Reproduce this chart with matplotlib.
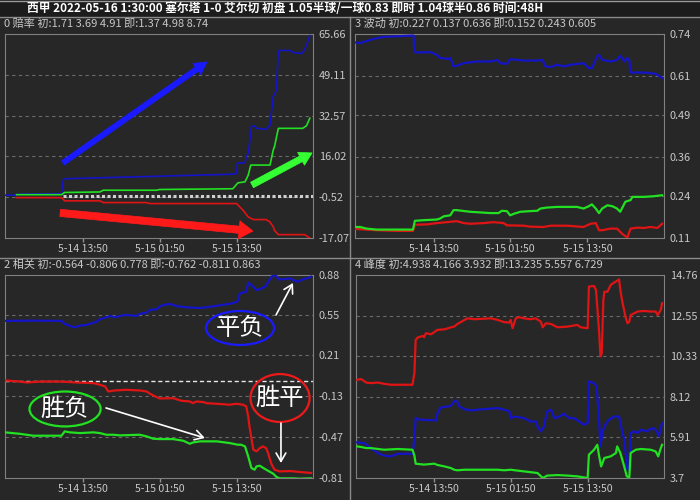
import matplotlib
matplotlib.use('Agg')
import matplotlib.pyplot as plt
from matplotlib.patches import Ellipse, Rectangle
from matplotlib.lines import Line2D

plt.rcParams['font.family'] = ['Noto Sans CJK SC', 'DejaVu Sans']

BG = '#272727'
TXT = '#c8c8c8'
BLUE = '#1414c8'
GREEN = '#22e022'
RED = '#e01414'

title_text = "西甲 2022-05-16 1:30:00 塞尔塔 1-0 艾尔切 初盘 1.05半球/一球0.83 即时 1.04球半0.86 时间:48H"
x_tick_pos = [12.2, 24.1, 36.1]
x_tick_labels = ['5-14 13:50', '5-15 01:50', '5-15 13:50']

# ---------------- panel 0 : 赔率 ----------------
p0_header = "0 赔率 初:1.71 3.69 4.91 即:1.37 4.98 8.74"
p0_yticks = [-17.07, -0.52, 16.02, 32.57, 49.11, 65.66]
p0_ylabels = ['-17.07', '-0.52', '16.02', '32.57', '49.11', '65.66']
p0_blue_t = [0, 1.8, 2.1, 8.8, 9.1, 9.6, 20, 35.5, 36.1, 36.2, 37.4, 37.6, 37.9, 38.1, 38.4, 38.9, 39.2, 40.7,
             41.3, 41.8, 42.2, 42.3, 42.6, 42.8, 44.4, 44.9, 46.2, 46.7, 47.1, 47.5]
p0_blue_v = [0.3, 0.3, 0.7, 0.9, 6.8, 7.0, 7.7, 8.8, 9.1, 13.2, 13.5, 15.9, 17.3, 21.3, 28.1, 28.4, 27.4, 27.0,
             28.8, 40.3, 42.3, 43.7, 58.6, 59.0, 59.0, 58.2, 57.7, 59.3, 62.0, 65.0]
p0_green_t = [1.8, 8.8, 9.3, 14.8, 15.3, 23.6, 24.1, 35.5, 36.3, 37.4, 37.9, 38.3, 41.3, 41.8, 42.0, 42.6,
              46.4, 47.0, 47.5]
p0_green_v = [0.5, 0.5, 1.4, 1.6, 2.3, 2.3, 2.6, 2.9, 5.3, 5.7, 8.4, 12.5, 12.5, 18.6, 20.0, 27.4,
              27.4, 28.5, 31.5]
p0_red_t = [1.8, 8.8, 9.3, 14.8, 15.3, 22.0, 22.6, 36.1, 36.6, 37.1, 37.9, 38.7, 40.7, 41.3, 41.8, 42.0,
            42.6, 46.7, 47.5]
p0_red_v = [-0.7, -0.7, -2.0, -2.0, -2.7, -2.7, -3.1, -3.1, -4.5, -5.8, -8.5, -9.6, -9.6, -10.6, -12.5, -14.0,
            -15.7, -15.7, -17.1]

# ---------------- panel 3 : 波动 ----------------
p3_header = "3 波动 初:0.227 0.137 0.636 即:0.152 0.243 0.605"
p3_yticks = [0.11, 0.24, 0.36, 0.49, 0.61, 0.74]
p3_ylabels = ['0.11', '0.24', '0.36', '0.49', '0.61', '0.74']
p3_blue_t = [0, 0.8, 1.6, 2.9, 4.4, 6.5, 8.8, 9.1, 9.2, 9.6, 11.7, 12.7, 13.2, 14.5, 14.8, 15.3, 15.8, 16.9,
             18.9, 21.0, 22.1, 22.6, 23.6, 24.1, 25.2, 26.2, 28.3, 29.1, 29.6, 30.4, 31.4, 32.4, 33.5, 35.5,
             36.3, 36.8, 37.6, 37.9, 38.4, 39.7, 40.7, 41.2, 41.5, 41.8, 42.3, 42.6, 42.8, 44.9, 45.9, 46.7,
             47.2, 47.7]
p3_blue_v = [0.714, 0.712, 0.717, 0.725, 0.731, 0.733, 0.735, 0.735, 0.686, 0.683, 0.684, 0.676, 0.666, 0.663,
             0.666, 0.640, 0.642, 0.650, 0.655, 0.655, 0.660, 0.650, 0.648, 0.662, 0.660, 0.658, 0.658, 0.660,
             0.640, 0.638, 0.645, 0.640, 0.645, 0.650, 0.635, 0.635, 0.671, 0.676, 0.660, 0.655, 0.660, 0.673,
             0.666, 0.655, 0.666, 0.660, 0.621, 0.621, 0.619, 0.617, 0.611, 0.604]
p3_green_t = [0, 0.8, 1.8, 3.4, 6.5, 9.0, 9.3, 10.6, 12.7, 13.2, 13.8, 14.8, 15.3, 15.8, 17.9, 21.0, 22.3,
              22.8, 23.6, 24.1, 24.7, 25.7, 27.2, 28.3, 28.8, 29.8, 31.4, 34.5, 35.5, 36.3, 36.8, 37.4, 37.9,
              38.4, 39.2, 40.0, 40.7, 41.2, 42.0, 42.8, 43.1, 44.9, 46.4, 47.7]
p3_green_v = [0.144, 0.144, 0.139, 0.136, 0.136, 0.136, 0.163, 0.165, 0.167, 0.170, 0.177, 0.180, 0.196, 0.196,
              0.191, 0.187, 0.187, 0.194, 0.193, 0.180, 0.185, 0.191, 0.193, 0.194, 0.201, 0.204, 0.206, 0.206,
              0.201, 0.208, 0.214, 0.201, 0.187, 0.201, 0.211, 0.208, 0.201, 0.191, 0.222, 0.227, 0.237, 0.237,
              0.239, 0.242]
p3_red_t = [0, 1.8, 3.4, 6.5, 9.0, 9.3, 11.2, 12.7, 14.8, 15.8, 16.9, 17.9, 20.0, 21.5, 23.1, 23.6, 26.2,
            27.2, 29.3, 30.4, 33.0, 35.5, 36.6, 37.4, 37.9, 38.4, 39.7, 40.7, 41.5, 42.3, 42.8, 43.9, 44.9,
            45.9, 47.0, 47.7]
p3_red_v = [0.138, 0.136, 0.134, 0.132, 0.132, 0.151, 0.152, 0.156, 0.160, 0.162, 0.156, 0.154, 0.156, 0.159,
            0.156, 0.149, 0.148, 0.145, 0.144, 0.148, 0.148, 0.144, 0.154, 0.156, 0.134, 0.134, 0.139, 0.139,
            0.123, 0.111, 0.139, 0.142, 0.141, 0.144, 0.141, 0.154]

# ---------------- panel 2 : 相关 ----------------
p2_header = "2 相关 初:-0.564 -0.806 0.778 即:-0.762 -0.811 0.863"
p2_yticks = [-0.81, -0.47, -0.13, 0.21, 0.55, 0.88]
p2_ylabels = ['-0.81', '-0.47', '-0.13', '0.21', '0.55', '0.88']
p2_blue_t = [0, 4.4, 8.8, 9.3, 10.4, 10.9, 11.7, 12.7, 13.5, 14.3, 14.8, 15.8, 16.4, 17.1, 17.9, 18.9, 20.5,
             21.0, 22.1, 22.6, 23.6, 24.1, 24.7, 25.7, 26.5, 27.2, 28.3, 29.3, 30.4, 31.4, 33.5, 35.5, 36.2,
             36.6, 37.6, 37.9, 38.4, 39.2, 39.7, 40.7, 41.0, 41.5, 41.8, 42.3, 42.6, 43.3, 44.4, 44.9, 45.7,
             46.4, 47.0, 47.7]
p2_blue_v = [0.498, 0.500, 0.498, 0.473, 0.451, 0.445, 0.459, 0.464, 0.478, 0.492, 0.512, 0.528, 0.539, 0.528,
             0.539, 0.548, 0.539, 0.556, 0.567, 0.589, 0.595, 0.617, 0.631, 0.639, 0.625, 0.617, 0.611, 0.608,
             0.606, 0.611, 0.628, 0.645, 0.658, 0.728, 0.741, 0.816, 0.797, 0.755, 0.761, 0.789, 0.825, 0.861,
             0.880, 0.872, 0.844, 0.844, 0.852, 0.838, 0.825, 0.844, 0.852, 0.866]
p2_red_t = [0, 2.3, 3.4, 5.5, 8.6, 11.2, 13.8, 14.8, 15.6, 16.1, 17.1, 18.9, 21.0, 22.1, 22.6, 24.1, 26.2,
            27.5, 28.8, 29.3, 29.8, 30.9, 31.4, 33.0, 35.0, 36.1, 37.1, 37.6, 37.9, 38.1, 38.7, 39.2, 39.7,
            40.2, 40.7, 41.0, 41.5, 42.0, 42.8, 44.4, 45.9, 47.7]
p2_red_v = [0.002, -0.007, -0.015, -0.007, -0.007, -0.015, -0.020, -0.034, -0.048, -0.090, -0.081, -0.076,
            -0.081, -0.090, -0.109, -0.148, -0.145, -0.167, -0.173, -0.187, -0.173, -0.178, -0.187, -0.192,
            -0.200, -0.192, -0.200, -0.214, -0.297, -0.381, -0.574, -0.588, -0.561, -0.547, -0.561, -0.602,
            -0.691, -0.741, -0.755, -0.752, -0.760, -0.768]
p2_green_t = [0, 2.3, 4.4, 8.8, 9.3, 10.1, 11.7, 13.8, 14.8, 15.8, 16.9, 17.9, 21.0, 22.1, 23.1, 24.1, 26.2,
              27.8, 28.8, 29.3, 30.4, 33.0, 35.0, 36.3, 36.8, 37.4, 37.9, 38.4, 38.9, 39.2, 39.7, 40.7, 41.8,
              42.3, 42.8, 44.9, 45.9, 47.7]
p2_green_v = [-0.430, -0.442, -0.458, -0.458, -0.422, -0.430, -0.436, -0.430, -0.436, -0.450, -0.450, -0.455,
              -0.450, -0.464, -0.483, -0.486, -0.486, -0.500, -0.525, -0.514, -0.505, -0.505, -0.519, -0.533,
              -0.533, -0.547, -0.630, -0.727, -0.741, -0.713, -0.708, -0.741, -0.774, -0.801, -0.813, -0.813,
              -0.816, -0.813]

# ---------------- panel 4 : 峰度 ----------------
p4_header = "4 峰度 初:4.938 4.166 3.932 即:13.235 5.557 6.729"
p4_yticks = [3.7, 5.91, 8.12, 10.33, 12.55, 14.76]
p4_ylabels = ['3.7', '5.91', '8.12', '10.33', '12.55', '14.76']
p4_red_t = [0.2, 0.8, 1.6, 2.3, 3.4, 4.4, 5.5, 8.8, 9.1, 9.3, 9.6, 10.4, 10.6, 10.9, 11.7, 12.7, 13.8, 14.8,
            15.3, 15.8, 16.9, 17.4, 18.4, 20.0, 21.0, 22.1, 23.1, 23.9, 24.1, 24.4, 24.9, 25.4, 26.2, 27.2,
            28.0, 28.8, 29.1, 29.6, 30.4, 31.4, 33.0, 34.5, 35.0, 36.1, 36.3, 37.1, 37.4, 37.6, 37.9, 38.1,
            38.3, 38.55, 38.7, 39.2, 39.7, 40.2, 40.7, 41.0, 41.2, 41.5, 42.0, 42.3, 42.6, 42.8, 43.9, 44.9,
            45.9, 46.7, 47.0, 47.5, 47.7]
p4_red_v = [9.05, 9.09, 8.90, 8.87, 8.90, 8.83, 8.78, 8.78, 9.41, 11.22, 11.35, 11.44, 11.37, 11.59, 11.53,
            11.77, 11.80, 11.91, 11.95, 12.09, 12.31, 12.40, 12.35, 12.38, 12.40, 12.31, 12.19, 12.17, 12.31,
            11.86, 12.40, 12.46, 12.40, 12.35, 12.40, 12.22, 11.91, 12.13, 12.09, 11.91, 11.95, 12.04, 11.91,
            11.86, 14.13, 14.16, 13.94, 13.04, 11.59, 10.32, 10.50, 13.40, 13.85, 13.85, 14.22, 14.34, 14.45,
            14.52, 13.94, 13.31, 12.49, 12.13, 12.22, 12.58, 12.77, 12.80, 12.77, 12.77, 12.58, 12.86, 13.22]
p4_blue_t = [0.2, 1.3, 2.3, 3.4, 4.4, 5.5, 6.5, 8.8, 9.1, 9.3, 10.1, 12.5, 12.7, 13.2, 14.8, 15.3, 15.7, 16.1,
             16.9, 17.9, 18.9, 22.1, 23.1, 23.9, 24.1, 24.7, 26.2, 27.2, 28.0, 28.3, 28.8, 29.3, 29.8, 30.4,
             30.9, 31.7, 32.4, 33.2, 34.0, 34.8, 35.5, 36.1, 36.3, 37.1, 37.5, 37.9, 38.1, 38.4, 38.7, 39.4,
             40.2, 41.0, 41.3, 41.8, 42.3, 42.6, 42.8, 43.3, 43.9, 44.4, 45.4, 45.9, 46.4, 46.9, 47.2, 47.7]
p4_blue_v = [5.64, 5.60, 5.33, 5.06, 4.92, 4.88, 5.02, 5.02, 5.79, 6.96, 6.87, 6.84, 7.24, 7.54, 7.63, 7.87,
             7.92, 7.60, 7.45, 7.38, 7.42, 7.51, 7.42, 7.33, 6.96, 7.05, 6.96, 6.78, 6.78, 6.51, 6.24, 6.51,
             7.33, 7.42, 6.96, 7.05, 7.20, 6.96, 6.96, 6.78, 6.60, 6.69, 8.96, 8.87, 8.69, 6.69, 5.42, 6.15,
             6.51, 6.87, 7.05, 7.05, 6.51, 5.79, 4.15, 4.33, 6.15, 6.24, 6.15, 6.33, 6.24, 6.37, 6.42, 6.24,
             5.97, 6.69]
p4_green_t = [0.2, 0.8, 1.6, 2.3, 4.4, 6.5, 8.8, 9.1, 9.3, 10.6, 12.2, 12.7, 13.8, 14.8, 15.3, 15.8, 16.9,
              20.0, 22.1, 23.1, 24.1, 26.2, 28.3, 29.1, 29.8, 31.4, 33.0, 34.5, 36.1, 36.3, 37.1, 37.6, 37.9,
              38.2, 38.7, 39.7, 40.5, 40.7, 41.2, 41.8, 42.2, 42.6, 42.8, 43.6, 44.4, 45.9, 46.7, 47.1, 47.5,
              47.7]
p4_green_v = [5.42, 5.39, 5.33, 5.33, 5.24, 5.28, 5.24, 4.92, 4.48, 4.43, 4.48, 4.41, 4.33, 4.24, 4.15, 4.12,
              4.15, 4.15, 4.15, 4.12, 4.15, 4.06, 3.97, 3.70, 3.83, 3.86, 3.83, 3.79, 3.70, 4.97, 5.24, 5.51,
              4.88, 4.33, 4.79, 4.88, 5.06, 5.42, 5.06, 4.33, 3.79, 3.75, 5.06, 5.24, 5.28, 5.24, 5.15, 4.88,
              5.33, 5.51]

W, H = 700, 500
fig = plt.figure(figsize=(7, 5), dpi=100, facecolor=BG)


def fx(px):
    return px / W


def fy(py):
    return 1 - py / H


def make_axes(x0, x1, y0, y1):
    return fig.add_axes([fx(x0), fy(y1), fx(x1) - fx(x0), (y1 - y0) / H])


def setup(ax, yticks, ylabels):
    ax.set_facecolor(BG)
    ax.set_xlim(0, 48)
    ax.set_ylim(yticks[0], yticks[-1])
    ax.set_yticks(yticks)
    ax.set_yticklabels(ylabels)
    ax.yaxis.tick_right()
    ax.tick_params(axis='y', length=0, pad=4, labelsize=7.9, labelcolor=TXT)
    ax.set_xticks(x_tick_pos)
    ax.set_xticklabels(x_tick_labels)
    ax.tick_params(axis='x', length=3, width=1, color='#909090', pad=1.5, labelsize=7.6, labelcolor=TXT)
    for s in ax.spines.values():
        s.set_color('#808080')
        s.set_linewidth(0.8)
    for yv in yticks[1:-1]:
        ax.axhline(yv, color='#6a6a6a', lw=0.8, ls=(0, (3, 3)), zorder=1)


ax0 = make_axes(5, 313, 34, 238)
ax3 = make_axes(355, 664, 34, 238)
ax2 = make_axes(5, 313, 275, 478)
ax4 = make_axes(356, 664, 275, 478)

setup(ax0, p0_yticks, p0_ylabels)
setup(ax3, p3_yticks, p3_ylabels)
setup(ax2, p2_yticks, p2_ylabels)
setup(ax4, p4_yticks, p4_ylabels)

# panel 0
ax0.hlines(0, 9.1, 48, color='#d0d0d0', lw=2.2, ls=(0, (1, 0.8)), zorder=2)
ax0.plot(p0_blue_t, p0_blue_v, color=BLUE, lw=1.2, zorder=3)
ax0.plot(p0_red_t, p0_red_v, color=RED, lw=1.2, zorder=3)
ax0.plot(p0_green_t, p0_green_v, color=GREEN, lw=1.2, zorder=3)


def fat_arrow(ax, tail, head, color, tw, hw, hl):
    ax.annotate('', xy=head, xytext=tail, xycoords='axes fraction', textcoords='axes fraction',
                arrowprops=dict(arrowstyle=f'simple,head_length={hl},head_width={hw},tail_width={tw}',
                                mutation_scale=10, fc=color, ec=color, lw=0.5,
                                shrinkA=0, shrinkB=0), annotation_clip=False, zorder=5)


fat_arrow(ax0, (0.188, 0.368), (0.656, 0.863), '#1a1aff', 0.38, 1.0, 0.9)
fat_arrow(ax0, (0.802, 0.260), (0.997, 0.417), '#33ff33', 0.45, 1.05, 0.9)
fat_arrow(ax0, (0.179, 0.123), (0.805, 0.034), '#ff1a1a', 0.52, 1.3, 1.0)

# panel 3
ax3.plot(p3_blue_t, p3_blue_v, color=BLUE, lw=1.6, zorder=3)
ax3.plot(p3_red_t, p3_red_v, color=RED, lw=1.6, zorder=3)
ax3.plot(p3_green_t, p3_green_v, color=GREEN, lw=1.6, zorder=3)

# panel 2
ax2.axhline(0, color='#e6e6e6', lw=1.0, ls=(0, (3, 2)), zorder=2)
ax2.plot(p2_blue_t, p2_blue_v, color=BLUE, lw=1.6, zorder=3)
ax2.plot(p2_red_t, p2_red_v, color=RED, lw=1.6, zorder=3)
ax2.plot(p2_green_t, p2_green_v, color=GREEN, lw=1.6, zorder=3)

for (cx, cy, w, h, ec, txt) in [(0.763, 0.739, 0.221, 0.167, '#1a1aff', '平负'),
                                 (0.195, 0.340, 0.231, 0.172, '#22e022', '胜负'),
                                 (0.893, 0.394, 0.192, 0.236, '#ee1a1a', '胜平')]:
    ax2.add_patch(Ellipse((cx, cy), w, h, transform=ax2.transAxes, fill=False, ec=ec, lw=1.6,
                          zorder=6, clip_on=False))
    ax2.text(cx, cy, txt, transform=ax2.transAxes, ha='center', va='center', fontsize=17.5,
             color='white', fontweight='light', zorder=7)

for tail, head in [((0.880, 0.803), (0.935, 0.961)),
                   ((0.328, 0.345), (0.649, 0.197)),
                   ((0.896, 0.271), (0.896, 0.074))]:
    ax2.annotate('', xy=head, xytext=tail, xycoords='axes fraction', textcoords='axes fraction',
                 arrowprops=dict(arrowstyle='->,head_length=0.6,head_width=0.35', color='white', lw=1.2,
                                 shrinkA=0, shrinkB=0), zorder=7)

# panel 4
ax4.plot(p4_red_t, p4_red_v, color=RED, lw=1.6, zorder=3)
ax4.plot(p4_blue_t, p4_blue_v, color=BLUE, lw=1.6, zorder=3)
ax4.plot(p4_green_t, p4_green_v, color=GREEN, lw=1.6, zorder=3)

# title bar and separators
fig.add_artist(Rectangle((0, fy(16)), 1, 16 / H, transform=fig.transFigure, color='#1c1c1c', zorder=0))
fig.add_artist(Line2D([0, 1], [fy(0.5)] * 2, transform=fig.transFigure, color='#9a9a9a', lw=1))
fig.add_artist(Line2D([0, 1], [fy(16.5)] * 2, transform=fig.transFigure, color='#8a8a8a', lw=1))
fig.add_artist(Line2D([0, 1], [fy(257.5)] * 2, transform=fig.transFigure, color='#8a8a8a', lw=1))
fig.add_artist(Line2D([fx(350.5)] * 2, [fy(16.5), 0], transform=fig.transFigure, color='#8a8a8a', lw=1))

fig.text(fx(27), fy(8.5), title_text, fontsize=8.45, fontweight='bold', color='white', va='center', ha='left')
fig.text(fx(4), fy(24), p0_header, fontsize=8.0, color=TXT, va='center', ha='left')
fig.text(fx(355), fy(24), p3_header, fontsize=8.0, color=TXT, va='center', ha='left')
fig.text(fx(4), fy(265), p2_header, fontsize=8.0, color=TXT, va='center', ha='left')
fig.text(fx(355), fy(265), p4_header, fontsize=8.0, color=TXT, va='center', ha='left')

fig.savefig('out.png', dpi=100, facecolor=BG)
